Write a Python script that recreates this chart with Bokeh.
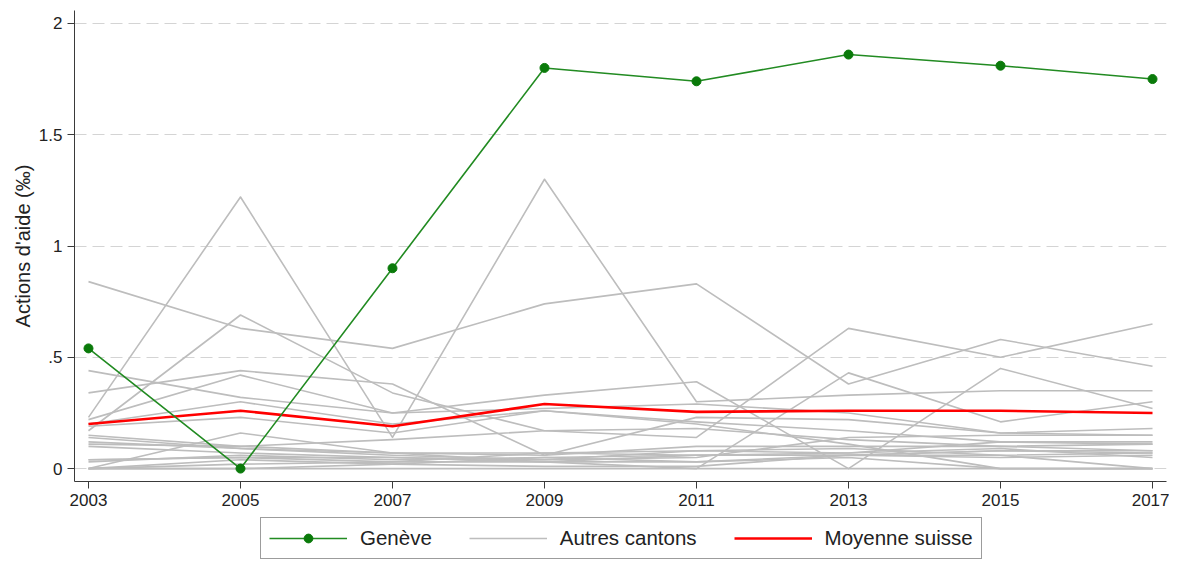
from bokeh.plotting import figure
from bokeh.layouts import column
from bokeh.models import Legend, LegendItem, FixedTicker, Range1d
from bokeh.embed import file_html
from bokeh.resources import INLINE

years = [2003, 2005, 2007, 2009, 2011, 2013, 2015, 2017]

geneve = [0.54, 0.00, 0.90, 1.80, 1.74, 1.86, 1.81, 1.75]
moyenne = [0.20, 0.26, 0.19, 0.29, 0.255, 0.26, 0.26, 0.25]

autres_cantons = [
    [0.84, 0.63, 0.54, 0.74, 0.83, 0.38, 0.58, 0.46],
    [0.23, 1.22, 0.14, 1.30, 0.30, 0.33, 0.35, 0.35],
    [0.17, 0.69, 0.34, 0.17, 0.14, 0.63, 0.50, 0.65],
    [0.34, 0.44, 0.38, 0.06, 0.23, 0.22, 0.16, 0.15],
    [0.22, 0.42, 0.25, 0.33, 0.39, 0.00, 0.45, 0.27],
    [0.44, 0.32, 0.25, 0.27, 0.29, 0.25, 0.16, 0.18],
    [0.20, 0.30, 0.20, 0.26, 0.21, 0.17, 0.12, 0.12],
    [0.19, 0.23, 0.16, 0.26, 0.20, 0.11, 0.00, 0.00],
    [0.15, 0.10, 0.13, 0.17, 0.18, 0.13, 0.10, 0.11],
    [0.14, 0.09, 0.07, 0.06, 0.10, 0.10, 0.10, 0.08],
    [0.11, 0.10, 0.07, 0.07, 0.08, 0.07, 0.12, 0.11],
    [0.10, 0.07, 0.05, 0.03, 0.06, 0.06, 0.06, 0.07],
    [0.04, 0.05, 0.03, 0.07, 0.06, 0.06, 0.08, 0.08],
    [0.03, 0.06, 0.04, 0.05, 0.06, 0.07, 0.09, 0.05],
    [0.00, 0.16, 0.07, 0.03, 0.00, 0.43, 0.21, 0.30],
    [0.00, 0.02, 0.03, 0.03, 0.03, 0.05, 0.00, 0.00],
    [0.00, 0.00, 0.00, 0.00, 0.00, 0.00, 0.00, 0.00],
    [0.00, 0.04, 0.02, 0.01, 0.01, 0.06, 0.05, 0.06],
    [0.04, 0.05, 0.05, 0.04, 0.05, 0.14, 0.15, 0.15],
    [0.00, 0.00, 0.02, 0.05, 0.03, 0.06, 0.08, 0.07],
    [0.12, 0.09, 0.06, 0.04, 0.08, 0.09, 0.06, 0.00],
]

y_ticks = [0, 0.5, 1, 1.5, 2]
y_tick_labels = {0: "0", 0.5: ".5", 1: "1", 1.5: "1.5", 2: "2"}
legend_labels = ["Genève", "Autres cantons", "Moyenne suisse"]

FONT = "Liberation Sans"
GRAY = "#bdbdbd"
RED = "#ff0000"
GREEN = "#228b22"
GREEN_DOT = "#0a7a0a"

p = figure(width=1169, height=513, output_backend="svg", toolbar_location=None,
           x_range=Range1d(2002.816, 2017.184), y_range=Range1d(-0.058, 2.058),
           min_border_left=74, min_border_right=3, min_border_top=10, min_border_bottom=32)
p.outline_line_color = None
p.background_fill_color = "white"
p.border_fill_color = "white"

for serie in autres_cantons:
    p.line(years, serie, line_color=GRAY, line_width=1.6, line_join="round")

p.line(years, moyenne, line_color=RED, line_width=2.6, line_join="round")
p.line(years, geneve, line_color=GREEN, line_width=1.6, line_join="round")
p.scatter(years, geneve, size=9, fill_color=GREEN_DOT, line_color=GREEN_DOT)

p.xaxis.ticker = FixedTicker(ticks=years)
p.yaxis.ticker = FixedTicker(ticks=y_ticks)
p.yaxis.major_label_overrides = y_tick_labels
for ax in (p.xaxis[0], p.yaxis[0]):
    ax.axis_line_color = "#3a3a3a"
    ax.major_tick_line_color = "#3a3a3a"
    ax.major_tick_out = 7
    ax.major_tick_in = 0
    ax.minor_tick_line_color = None
    ax.major_label_text_font = FONT
    ax.major_label_text_font_size = "17px"
    ax.major_label_text_color = "#222222"
    ax.major_label_standoff = 5
p.yaxis.major_label_orientation = "horizontal"
p.yaxis.axis_label = "Actions d'aide (‰)"
p.yaxis.axis_label_text_font = FONT
p.yaxis.axis_label_text_font_size = "20px"
p.yaxis.axis_label_text_font_style = "normal"
p.yaxis.axis_label_text_color = "#222222"
p.yaxis.axis_label_standoff = 2

p.xgrid.grid_line_color = None
p.ygrid.grid_line_color = "#d4d4d4"
p.ygrid.grid_line_dash = "12 6"
p.ygrid.grid_line_width = 1

# legend in its own strip under the chart
lf = figure(width=1169, height=46, output_backend="svg", toolbar_location=None,
            x_axis_type=None, y_axis_type=None,
            x_range=Range1d(0, 1), y_range=Range1d(0, 1), min_border=0)
lf.outline_line_color = None
lf.grid.visible = False
hidden_x = [-10, -9]
hidden_y = [-10, -9]
lg_gen_l = lf.line(x=hidden_x, y=hidden_y, line_color=GREEN, line_width=1.6)
lg_gen_s = lf.scatter(x=hidden_x, y=hidden_y, size=9, fill_color=GREEN_DOT, line_color=GREEN_DOT)
lg_gray = lf.line(x=hidden_x, y=hidden_y, line_color=GRAY, line_width=1.6)
lg_red = lf.line(x=hidden_x, y=hidden_y, line_color=RED, line_width=2.6)

legend = Legend(items=[
    LegendItem(label=legend_labels[0], renderers=[lg_gen_l, lg_gen_s]),
    LegendItem(label=legend_labels[1], renderers=[lg_gray]),
    LegendItem(label=legend_labels[2], renderers=[lg_red]),
], orientation="horizontal", location=(186, 0))
legend.label_text_font = FONT
legend.label_text_font_size = "20.5px"
legend.label_text_color = "#222222"
legend.glyph_width = 78
legend.glyph_height = 22
legend.label_height = 22
legend.label_standoff = 13
legend.spacing = 37
legend.padding = 8
legend.margin = 0
legend.border_line_color = "#3a3a3a"
legend.border_line_width = 1
legend.background_fill_color = "white"
legend.background_fill_alpha = 1
lf.add_layout(legend, "center")

open("out.html", "w").write(file_html(column(p, lf, spacing=0), INLINE))
